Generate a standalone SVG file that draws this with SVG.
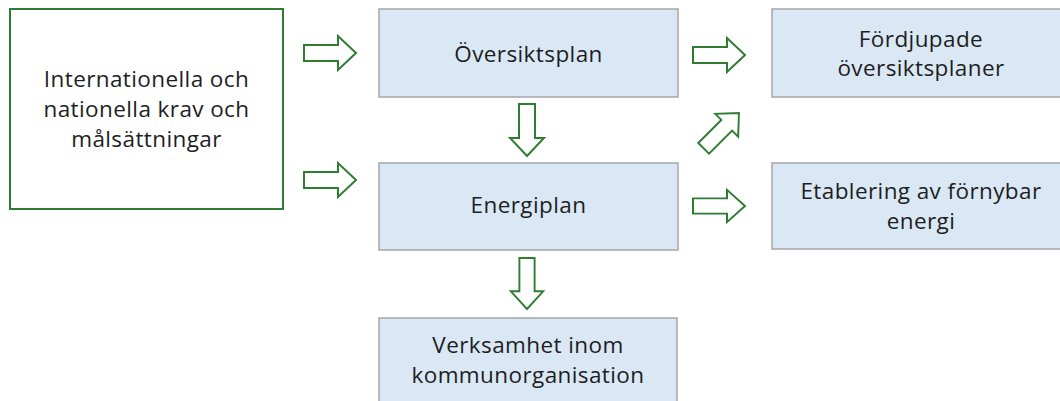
<svg xmlns="http://www.w3.org/2000/svg" width="1060" height="401" viewBox="0 0 1060 401">
<defs>
<path id="arr" d="M0,-8 H34 V-17 L52,0 L34,17 V8 H0 Z"/>
</defs>
<style>
.box{fill:#dae8f5;stroke:#a6a6a6;stroke-width:1.5}
.src{fill:#ffffff;stroke:#2e7d32;stroke-width:2}
.a{fill:#ffffff;stroke:#2e7d32;stroke-width:2;stroke-linejoin:miter}
text{font-family:"Open Sans","Liberation Sans",sans-serif;font-size:22.5px;letter-spacing:0.4px;fill:#1e1e1e;text-anchor:middle}
</style>
<rect width="1060" height="401" fill="#ffffff"/>
<g id="krav">
<rect class="src" x="10" y="9" width="273" height="200"/>
<text x="146.5" y="87">Internationella och</text>
<text x="146.5" y="117">nationella krav och</text>
<text x="146.5" y="147">målsättningar</text>
</g>
<g id="oversiktsplan">
<rect class="box" x="379" y="9" width="299" height="88"/>
<text x="528.5" y="62">Översiktsplan</text>
</g>
<g id="energiplan">
<rect class="box" x="379" y="163" width="299" height="87"/>
<text x="528.5" y="213">Energiplan</text>
</g>
<g id="verksamhet">
<rect class="box" x="379" y="318" width="298" height="100"/>
<text x="528" y="353">Verksamhet inom</text>
<text x="528" y="383">kommunorganisation</text>
</g>
<g id="fordjupade">
<rect class="box" x="772" y="9" width="298" height="88"/>
<text x="921" y="47">Fördjupade</text>
<text x="921" y="76">översiktsplaner</text>
</g>
<g id="etablering">
<rect class="box" x="772" y="163" width="298" height="86"/>
<text x="921" y="199">Etablering av förnybar</text>
<text x="921" y="229">energi</text>
</g>
<g id="connectors">
<use href="#arr" class="a" transform="translate(304,53)"/>
<use href="#arr" class="a" transform="translate(304,180)"/>
<use href="#arr" class="a" transform="translate(527,104) rotate(90)"/>
<use href="#arr" class="a" transform="translate(527,258) rotate(90) scale(0.98,0.95)"/>
<use href="#arr" class="a" transform="translate(693,55)"/>
<use href="#arr" class="a" transform="translate(693,206) scale(1,0.95)"/>
<use href="#arr" class="a" transform="translate(739,113) rotate(-45) translate(-50,0) scale(0.96,0.95)"/>
</g>
</svg>
